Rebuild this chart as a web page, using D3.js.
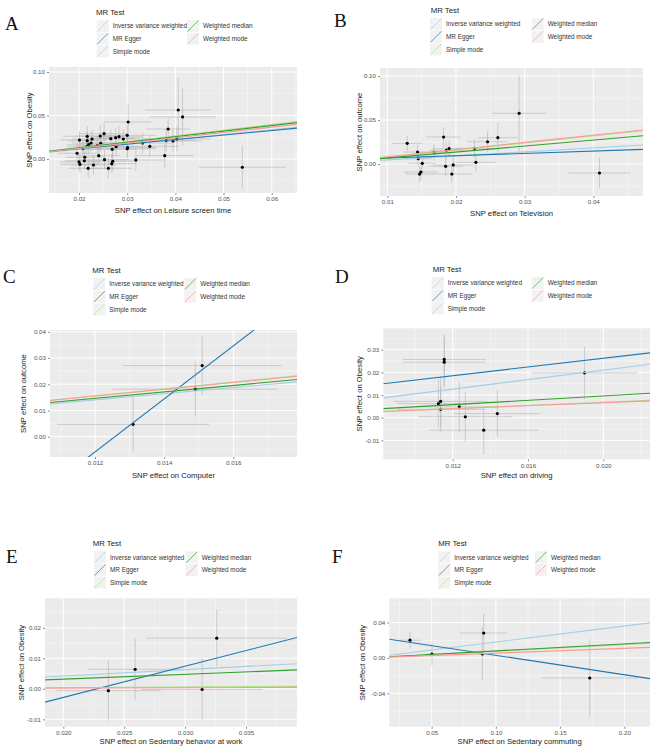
<!DOCTYPE html>
<html><head><meta charset="utf-8">
<script src="https://cdn.jsdelivr.net/npm/d3@7"></script>
<style>body{margin:0;background:#fff}</style>
</head><body>
<svg id="chart" width="655" height="749"></svg>
<script>
// ---------------- DATA ----------------
const methods = ["Inverse variance weighted","MR Egger","Simple mode","Weighted median","Weighted mode"];
const panelLetters = ["A","B","C","D","E","F"];
const exposureNames = ["Leisure screen time","Television","Computer","driving","Sedentary behavior at work","Sedentary commuting"];
const outcomeNames = ["Obesity","outcome","outcome","Obesity","Obesity","Obesity"];

// SNP rows: [beta exposure, beta outcome, se exposure, se outcome]
const snpA = [
 [0.0406,0.0563,0.0068,0.037],[0.0415,0.0483,0.0068,0.033],[0.0302,0.0425,0.005,0.02],[0.0385,0.0345,0.0045,0.012],
 [0.0201,0.0218,0.004,0.010],[0.0217,0.0261,0.005,0.012],[0.0217,0.0210,0.004,0.010],[0.0227,0.0230,0.004,0.010],
 [0.0220,0.0164,0.0045,0.011],[0.0225,0.0184,0.004,0.010],[0.0216,0.0141,0.004,0.009],[0.0208,0.0118,0.004,0.010],
 [0.0238,0.0153,0.0045,0.010],[0.0244,0.0264,0.005,0.012],[0.0252,0.0291,0.005,0.013],[0.0245,0.0180,0.0045,0.010],
 [0.0266,0.0233,0.005,0.011],[0.0276,0.0245,0.005,0.011],[0.0283,0.0256,0.005,0.012],[0.0292,0.0230,0.005,0.011],
 [0.0300,0.0272,0.006,0.012],[0.0277,0.0141,0.005,0.010],[0.0269,0.0111,0.005,0.010],[0.0300,0.0118,0.006,0.011],
 [0.0301,0.0130,0.006,0.011],[0.0332,0.0184,0.006,0.012],[0.0347,0.0146,0.006,0.012],[0.0381,0.0215,0.006,0.013],
 [0.0395,0.0207,0.006,0.013],[0.0403,0.0230,0.007,0.014],[0.0378,0.0038,0.006,0.014],[0.0318,-0.0011,0.006,0.012],
 [0.0196,0.0066,0.004,0.010],[0.0212,0.0020,0.004,0.010],[0.0211,-0.0020,0.004,0.010],[0.0200,-0.0034,0.004,0.010],
 [0.0202,-0.0061,0.004,0.010],[0.0230,-0.0069,0.0045,0.011],[0.0219,-0.0107,0.004,0.011],[0.0241,0.0038,0.0045,0.010],
 [0.0253,-0.0008,0.005,0.011],[0.0270,-0.0026,0.005,0.011],[0.0268,-0.0054,0.005,0.011],[0.0261,-0.0107,0.005,0.012],
 [0.0539,-0.0095,0.009,0.025]
];
const snpB = [
 [0.0129,0.0235,0.0022,0.009],[0.0144,0.0136,0.002,0.008],[0.0145,0.0060,0.002,0.009],[0.0151,0.0008,0.002,0.008],
 [0.0147,-0.0114,0.002,0.009],[0.0149,-0.0091,0.0025,0.009],[0.0168,0.0133,0.0025,0.009],[0.0182,0.0307,0.0025,0.011],
 [0.0186,0.0156,0.0025,0.010],[0.0190,0.0174,0.0025,0.009],[0.0185,-0.0026,0.0025,0.012],[0.0196,-0.0011,0.003,0.010],
 [0.0194,-0.0114,0.003,0.010],[0.0227,0.0178,0.0028,0.010],[0.0229,0.0019,0.003,0.010],[0.0246,0.0253,0.003,0.012],
 [0.0261,0.0299,0.0029,0.017],[0.0292,0.0576,0.004,0.043],[0.0409,-0.0102,0.0045,0.017]
];
const snpC = [
 [0.0151,0.0271,0.0023,0.0113],[0.0149,0.0181,0.0024,0.0104],[0.0131,0.0047,0.0022,0.0105]
];
const snpD = [
 [0.01155,0.0257,0.0022,0.0113],[0.01155,0.0245,0.0022,0.0112],[0.0190,0.0198,0.0028,0.0116],
 [0.01124,0.0062,0.0022,0.0105],[0.01136,0.0072,0.0025,0.0110],[0.01136,0.0037,0.0023,0.0098],
 [0.01235,0.0048,0.0022,0.0110],[0.01267,0.0004,0.0025,0.0110],[0.01365,-0.0055,0.0029,0.0105],
 [0.01437,0.0018,0.0023,0.0102]
];
const snpE = [
 [0.0237,-0.0006,0.0043,0.0099],[0.0259,0.0064,0.0039,0.0101],[0.0314,-0.0002,0.0050,0.0102],[0.0326,0.0166,0.0058,0.0093]
];
const snpF = [
 [0.0331,0.0200,0.0087,0.0093],[0.0502,0.0044,0.0050,0.0130],[0.0894,0.0044,0.0040,0.0300],
 [0.0905,0.0281,0.0185,0.0220],[0.1731,-0.0227,0.0376,0.0440]
];

// MR estimates (slope per method, same order as `methods`); intercept only for MR Egger
const slopesA = [0.56,0.52,0.66,0.64,0.61];  const eggerInterceptA = 0.0015;
const slopesB = [0.457,0.266,0.80,0.68,0.818]; const eggerInterceptB = 0.0041;
const slopesC = [1.17,10.1,1.30,1.22,1.29];   const eggerInterceptC = -0.127;
const slopesD = [1.05,0.96,0.34,0.48,0.33];   const eggerInterceptD = 0.007;
const slopesE = [0.21,1.024,0.02,0.158,0.012]; const eggerInterceptE = -0.0233;
const slopesF = [0.18,-0.219,0.075,0.079,0.054]; const eggerInterceptF = 0.0248;

// Axis ranges and ticks
const xDomainA = [0.01377,0.06525]; const yDomainA = [-0.0391,0.10575];
const xDomainB = [0.008937,0.04724]; const yDomainB = [-0.03636,0.1091];
const xDomainC = [0.010698,0.017842]; const yDomainC = [-0.00773,0.04065];
const xDomainD = [0.008313,0.022481]; const yDomainD = [-0.01835,0.03943];
const xDomainE = [0.018498,0.039187]; const yDomainE = [-0.01242,0.02967];
const xDomainF = [0.01698,0.2200]; const yDomainF = [-0.07774,0.06734];

const xTicksA = [0.02,0.03,0.04,0.05,0.06]; const xTickLabelsA = ["0.02","0.03","0.04","0.05","0.06"];
const yTicksA = [0,0.05,0.10]; const yTickLabelsA = ["0.00","0.05","0.10"];
const xTicksB = [0.01,0.02,0.03,0.04]; const xTickLabelsB = ["0.01","0.02","0.03","0.04"];
const yTicksB = [0,0.05,0.10]; const yTickLabelsB = ["0.00","0.05","0.10"];
const xTicksC = [0.012,0.014,0.016]; const xTickLabelsC = ["0.012","0.014","0.016"];
const yTicksC = [0,0.01,0.02,0.03,0.04]; const yTickLabelsC = ["0.00","0.01","0.02","0.03","0.04"];
const xTicksD = [0.012,0.016,0.020]; const xTickLabelsD = ["0.012","0.016","0.020"];
const yTicksD = [-0.01,0,0.01,0.02,0.03]; const yTickLabelsD = ["-0.01","0.00","0.01","0.02","0.03"];
const xTicksE = [0.020,0.025,0.030,0.035]; const xTickLabelsE = ["0.020","0.025","0.030","0.035"];
const yTicksE = [-0.01,0,0.01,0.02]; const yTickLabelsE = ["-0.01","0.00","0.01","0.02"];
const xTicksF = [0.05,0.10,0.15,0.20]; const xTickLabelsF = ["0.05","0.10","0.15","0.20"];
const yTicksF = [-0.04,0,0.04]; const yTickLabelsF = ["-0.04","0.00","0.04"];

// ---------------- STYLE / LAYOUT ----------------
const methodColors = ["#a6cee3","#1f78b4","#b2df8a","#33a02c","#fb9a99"];
const FONT = "'Liberation Sans', Arial, Helvetica, sans-serif";

const panels = [
 {snp:snpA, slopes:slopesA, egg:eggerInterceptA, xd:xDomainA, yd:yDomainA, xt:xTicksA, xl:xTickLabelsA, yt:yTicksA, yl:yTickLabelsA,
  box:[49,67,297,193], letter:[5,30], leg:[96,12,96.7,90.3], xTitleY:210, yTitleX:29},
 {snp:snpB, slopes:slopesB, egg:eggerInterceptB, xd:xDomainB, yd:yDomainB, xt:xTicksB, xl:xTickLabelsB, yt:yTicksB, yl:yTickLabelsB,
  box:[380,68,643,196], letter:[334,27], leg:[430.7,10,430,101.7], xTitleY:213, yTitleX:359},
 {snp:snpC, slopes:slopesC, egg:eggerInterceptC, xd:xDomainC, yd:yDomainC, xt:xTicksC, xl:xTickLabelsC, yt:yTicksC, yl:yTickLabelsC,
  box:[50,330,297,457], letter:[3,283], leg:[92.3,270,93.3,91], xTitleY:475, yTitleX:23},
 {snp:snpD, slopes:slopesD, egg:eggerInterceptD, xd:xDomainD, yd:yDomainD, xt:xTicksD, xl:xTickLabelsD, yt:yTicksD, yl:yTickLabelsD,
  box:[383.3,328.3,650,459.3], letter:[335,283], leg:[432.7,269,431.7,100], xTitleY:475, yTitleX:359},
 {snp:snpE, slopes:slopesE, egg:eggerInterceptE, xd:xDomainE, yd:yDomainE, xt:xTicksE, xl:xTickLabelsE, yt:yTicksE, yl:yTickLabelsE,
  box:[45,598.3,297,726.7], letter:[6,563], leg:[92.7,543.3,94,91.7], xTitleY:741.5, yTitleX:21.5},
 {snp:snpF, slopes:slopesF, egg:eggerInterceptF, xd:xDomainF, yd:yDomainF, xt:xTicksF, xl:xTickLabelsF, yt:yTicksF, yl:yTickLabelsF,
  box:[389.3,598.3,650,726.7], letter:[332,563], leg:[438.3,543.3,438.3,96.7], xTitleY:741.5, yTitleX:362}
];

const svg = d3.select("#chart");
svg.append("rect").attr("width",655).attr("height",749).attr("fill","#fff");

function minorTicks(t, d){
  const step = t[1]-t[0];
  const out = [];
  for (let v = t[0]-step/2; v <= d[1]; v += step) if (v >= d[0]) out.push(v);
  return out;
}

panels.forEach((p, i) => {
  const [L,T,R,B] = p.box;
  const x = d3.scaleLinear().domain(p.xd).range([L,R]);
  const y = d3.scaleLinear().domain(p.yd).range([B,T]);
  const g = svg.append("g");

  // panel letter
  g.append("text").attr("x",p.letter[0]).attr("y",p.letter[1])
    .attr("font-family","'Liberation Serif','Times New Roman',serif").attr("font-size",19)
    .attr("fill","#111").text(panelLetters[i]);

  // background
  g.append("rect").attr("x",L).attr("y",T).attr("width",R-L).attr("height",B-T).attr("fill","#ebebeb");
  // minor grid
  minorTicks(p.xt,p.xd).forEach(v => g.append("line").attr("x1",x(v)).attr("x2",x(v)).attr("y1",T).attr("y2",B)
     .attr("stroke","#fff").attr("stroke-width",0.5).attr("opacity",0.8));
  minorTicks(p.yt,p.yd).forEach(v => g.append("line").attr("y1",y(v)).attr("y2",y(v)).attr("x1",L).attr("x2",R)
     .attr("stroke","#fff").attr("stroke-width",0.5).attr("opacity",0.8));
  // major grid
  p.xt.forEach(v => g.append("line").attr("x1",x(v)).attr("x2",x(v)).attr("y1",T).attr("y2",B).attr("stroke","#fff").attr("stroke-width",1));
  p.yt.forEach(v => g.append("line").attr("y1",y(v)).attr("y2",y(v)).attr("x1",L).attr("x2",R).attr("stroke","#fff").attr("stroke-width",1));

  // axes
  const xAxis = d3.axisBottom(x).tickValues(p.xt).tickFormat((d,k)=>p.xl[k]).tickSize(2).tickPadding(2);
  const yAxis = d3.axisLeft(y).tickValues(p.yt).tickFormat((d,k)=>p.yl[k]).tickSize(2).tickPadding(2);
  const gx = g.append("g").attr("transform",`translate(0,${B})`).call(xAxis);
  const gy = g.append("g").attr("transform",`translate(${L},0)`).call(yAxis);
  [gx,gy].forEach(a => {
    a.select(".domain").remove();
    a.selectAll("line").attr("stroke","#444").attr("stroke-width",0.6);
    a.selectAll("text").attr("fill","#555").attr("font-size",6.2).attr("font-family",FONT);
  });

  // clip
  const cid = "clip"+i;
  svg.append("clipPath").attr("id",cid).append("rect").attr("x",L).attr("y",T).attr("width",R-L).attr("height",B-T);
  const pg = g.append("g").attr("clip-path",`url(#${cid})`);

  // error bars
  pg.selectAll(".ev").data(p.snp).enter().append("line")
    .attr("x1",d=>x(d[0])).attr("x2",d=>x(d[0])).attr("y1",d=>y(d[1]-d[3])).attr("y2",d=>y(d[1]+d[3]))
    .attr("stroke","#b4b4b4").attr("stroke-width",0.6);
  pg.selectAll(".eh").data(p.snp).enter().append("line")
    .attr("y1",d=>y(d[1])).attr("y2",d=>y(d[1])).attr("x1",d=>x(d[0]-d[2])).attr("x2",d=>x(d[0]+d[2]))
    .attr("stroke","#b4b4b4").attr("stroke-width",0.6);
  // points
  pg.selectAll(".pt").data(p.snp).enter().append("circle")
    .attr("cx",d=>x(d[0])).attr("cy",d=>y(d[1])).attr("r",1.6).attr("fill","#000");
  // MR lines
  methods.forEach((m,k) => {
    const a = k===1 ? p.egg : 0;
    const b = p.slopes[k];
    pg.append("line").attr("x1",x(p.xd[0])).attr("x2",x(p.xd[1]))
      .attr("y1",y(a+b*p.xd[0])).attr("y2",y(a+b*p.xd[1]))
      .attr("stroke",methodColors[k]).attr("stroke-width",1.1);
  });

  // axis titles
  g.append("text").attr("x",(L+R)/2).attr("y",p.xTitleY).attr("dy","0.35em").attr("text-anchor","middle")
    .attr("font-family",FONT).attr("font-size",7.7).attr("fill","#222").text("SNP effect on "+exposureNames[i]);
  g.append("text").attr("transform",`translate(${p.yTitleX},${(T+B)/2}) rotate(-90)`).attr("dy","0.35em").attr("text-anchor","middle")
    .attr("font-family",FONT).attr("font-size",7.7).attr("fill","#222").text("SNP effect on "+outcomeNames[i]);

  // legend
  const [tx,ty,kx,c2] = p.leg;
  g.append("text").attr("x",tx).attr("y",ty).attr("dy","0.35em").attr("font-family",FONT).attr("font-size",7.8)
    .attr("fill","#222").text("MR Test");
  methods.forEach((m,k) => {
    const col = k<3 ? 0 : 1, row = k<3 ? k : k-3;
    const bx = kx + col*c2, cy = ty + 14 + row*12.7;
    g.append("rect").attr("x",bx).attr("y",cy-6).attr("width",12).attr("height",12).attr("fill","#f2f2f2");
    g.append("line").attr("x1",bx+0.5).attr("y1",cy+5.5).attr("x2",bx+11.5).attr("y2",cy-5.5)
      .attr("stroke",methodColors[k]).attr("stroke-width",0.9).attr("opacity",0.75);
    g.append("text").attr("x",bx+16).attr("y",cy).attr("dy","0.35em").attr("font-family",FONT).attr("font-size",6.4)
      .attr("fill","#333").text(m);
  });
});
</script>
</body></html>
